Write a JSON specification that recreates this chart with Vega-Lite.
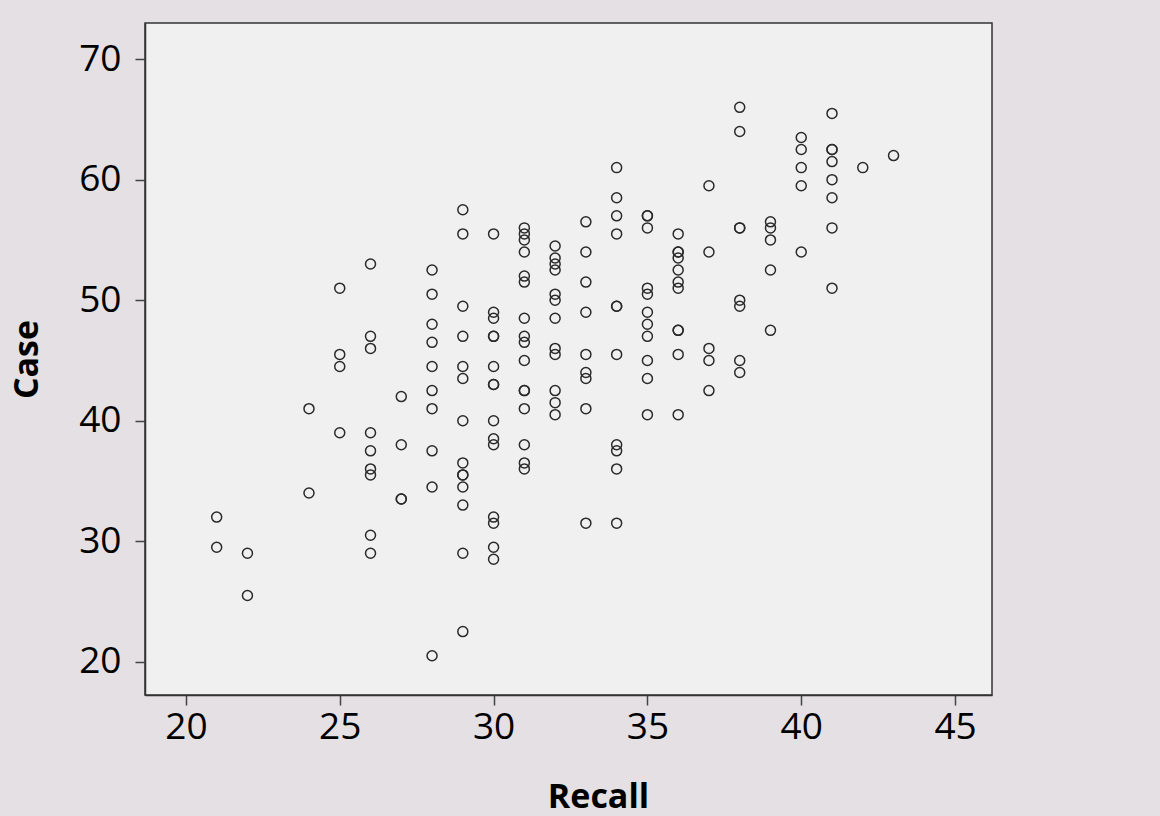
{
  "$schema": "https://vega.github.io/schema/vega-lite/v6.json",
  "width": 847,
  "height": 672,
  "autosize": "none",
  "padding": {"left": 145, "top": 23, "right": 168, "bottom": 121},
  "background": "#e4e0e3",
  "config": {
    "view": {"fill": "#f0f0f0", "stroke": "#333333", "strokeWidth": 1.5},
    "font": "Open Sans"
  },
  "data": {
    "values": [
      {"Recall": 21, "Case": 32}, {"Recall": 21, "Case": 29.5},
      {"Recall": 22, "Case": 29}, {"Recall": 22, "Case": 25.5},
      {"Recall": 24, "Case": 41}, {"Recall": 24, "Case": 34},
      {"Recall": 25, "Case": 51}, {"Recall": 25, "Case": 45.5}, {"Recall": 25, "Case": 44.5}, {"Recall": 25, "Case": 39},
      {"Recall": 26, "Case": 53}, {"Recall": 26, "Case": 47}, {"Recall": 26, "Case": 46}, {"Recall": 26, "Case": 39}, {"Recall": 26, "Case": 37.5}, {"Recall": 26, "Case": 36}, {"Recall": 26, "Case": 35.5}, {"Recall": 26, "Case": 30.5}, {"Recall": 26, "Case": 29},
      {"Recall": 27, "Case": 42}, {"Recall": 27, "Case": 38}, {"Recall": 27, "Case": 33.5}, {"Recall": 27, "Case": 33.5},
      {"Recall": 28, "Case": 52.5}, {"Recall": 28, "Case": 50.5}, {"Recall": 28, "Case": 48}, {"Recall": 28, "Case": 46.5}, {"Recall": 28, "Case": 44.5}, {"Recall": 28, "Case": 42.5}, {"Recall": 28, "Case": 41}, {"Recall": 28, "Case": 37.5}, {"Recall": 28, "Case": 34.5}, {"Recall": 28, "Case": 20.5},
      {"Recall": 29, "Case": 57.5}, {"Recall": 29, "Case": 55.5}, {"Recall": 29, "Case": 49.5}, {"Recall": 29, "Case": 47}, {"Recall": 29, "Case": 44.5}, {"Recall": 29, "Case": 43.5}, {"Recall": 29, "Case": 40}, {"Recall": 29, "Case": 36.5}, {"Recall": 29, "Case": 35.5}, {"Recall": 29, "Case": 35.5}, {"Recall": 29, "Case": 34.5}, {"Recall": 29, "Case": 33}, {"Recall": 29, "Case": 29}, {"Recall": 29, "Case": 22.5},
      {"Recall": 30, "Case": 55.5}, {"Recall": 30, "Case": 49}, {"Recall": 30, "Case": 48.5}, {"Recall": 30, "Case": 47}, {"Recall": 30, "Case": 47}, {"Recall": 30, "Case": 44.5}, {"Recall": 30, "Case": 43}, {"Recall": 30, "Case": 43}, {"Recall": 30, "Case": 40}, {"Recall": 30, "Case": 38.5}, {"Recall": 30, "Case": 38}, {"Recall": 30, "Case": 32}, {"Recall": 30, "Case": 31.5}, {"Recall": 30, "Case": 29.5}, {"Recall": 30, "Case": 28.5},
      {"Recall": 31, "Case": 56}, {"Recall": 31, "Case": 55.5}, {"Recall": 31, "Case": 55}, {"Recall": 31, "Case": 54}, {"Recall": 31, "Case": 52}, {"Recall": 31, "Case": 51.5}, {"Recall": 31, "Case": 48.5}, {"Recall": 31, "Case": 47}, {"Recall": 31, "Case": 46.5}, {"Recall": 31, "Case": 45}, {"Recall": 31, "Case": 42.5}, {"Recall": 31, "Case": 42.5}, {"Recall": 31, "Case": 41}, {"Recall": 31, "Case": 38}, {"Recall": 31, "Case": 36.5}, {"Recall": 31, "Case": 36},
      {"Recall": 32, "Case": 54.5}, {"Recall": 32, "Case": 53.5}, {"Recall": 32, "Case": 53}, {"Recall": 32, "Case": 52.5}, {"Recall": 32, "Case": 50.5}, {"Recall": 32, "Case": 50}, {"Recall": 32, "Case": 48.5}, {"Recall": 32, "Case": 46}, {"Recall": 32, "Case": 45.5}, {"Recall": 32, "Case": 42.5}, {"Recall": 32, "Case": 41.5}, {"Recall": 32, "Case": 40.5},
      {"Recall": 33, "Case": 56.5}, {"Recall": 33, "Case": 54}, {"Recall": 33, "Case": 51.5}, {"Recall": 33, "Case": 49}, {"Recall": 33, "Case": 45.5}, {"Recall": 33, "Case": 44}, {"Recall": 33, "Case": 43.5}, {"Recall": 33, "Case": 41}, {"Recall": 33, "Case": 31.5},
      {"Recall": 34, "Case": 61}, {"Recall": 34, "Case": 58.5}, {"Recall": 34, "Case": 57}, {"Recall": 34, "Case": 55.5}, {"Recall": 34, "Case": 49.5}, {"Recall": 34, "Case": 49.5}, {"Recall": 34, "Case": 45.5}, {"Recall": 34, "Case": 38}, {"Recall": 34, "Case": 37.5}, {"Recall": 34, "Case": 36}, {"Recall": 34, "Case": 31.5},
      {"Recall": 35, "Case": 57}, {"Recall": 35, "Case": 57}, {"Recall": 35, "Case": 56}, {"Recall": 35, "Case": 51}, {"Recall": 35, "Case": 50.5}, {"Recall": 35, "Case": 49}, {"Recall": 35, "Case": 48}, {"Recall": 35, "Case": 47}, {"Recall": 35, "Case": 45}, {"Recall": 35, "Case": 43.5}, {"Recall": 35, "Case": 40.5},
      {"Recall": 36, "Case": 55.5}, {"Recall": 36, "Case": 54}, {"Recall": 36, "Case": 54}, {"Recall": 36, "Case": 53.5}, {"Recall": 36, "Case": 52.5}, {"Recall": 36, "Case": 51.5}, {"Recall": 36, "Case": 51}, {"Recall": 36, "Case": 47.5}, {"Recall": 36, "Case": 47.5}, {"Recall": 36, "Case": 45.5}, {"Recall": 36, "Case": 40.5},
      {"Recall": 37, "Case": 59.5}, {"Recall": 37, "Case": 54}, {"Recall": 37, "Case": 46}, {"Recall": 37, "Case": 45}, {"Recall": 37, "Case": 42.5},
      {"Recall": 38, "Case": 66}, {"Recall": 38, "Case": 64}, {"Recall": 38, "Case": 56}, {"Recall": 38, "Case": 56}, {"Recall": 38, "Case": 50}, {"Recall": 38, "Case": 49.5}, {"Recall": 38, "Case": 45}, {"Recall": 38, "Case": 44},
      {"Recall": 39, "Case": 56.5}, {"Recall": 39, "Case": 56}, {"Recall": 39, "Case": 55}, {"Recall": 39, "Case": 52.5}, {"Recall": 39, "Case": 47.5},
      {"Recall": 40, "Case": 63.5}, {"Recall": 40, "Case": 62.5}, {"Recall": 40, "Case": 61}, {"Recall": 40, "Case": 59.5}, {"Recall": 40, "Case": 54},
      {"Recall": 41, "Case": 65.5}, {"Recall": 41, "Case": 62.5}, {"Recall": 41, "Case": 62.5}, {"Recall": 41, "Case": 61.5}, {"Recall": 41, "Case": 60}, {"Recall": 41, "Case": 58.5}, {"Recall": 41, "Case": 56}, {"Recall": 41, "Case": 51},
      {"Recall": 42, "Case": 61},
      {"Recall": 43, "Case": 62}
    ]
  },
  "mark": {"type": "point", "shape": "circle", "filled": false, "stroke": "#2a2a2a", "strokeWidth": 1.5, "size": 100, "opacity": 1},
  "encoding": {
    "x": {
      "field": "Recall", "type": "quantitative",
      "scale": {"domain": [18.67, 46.2], "nice": false, "zero": false},
      "axis": {
        "title": "Recall", "values": [20, 25, 30, 35, 40, 45], "grid": false,
        "domainColor": "#333333", "domainWidth": 1.5, "tickColor": "#444444", "tickWidth": 1.5, "tickSize": 10,
        "labelFont": "Open Sans", "labelFontSize": 37, "labelColor": "#000000", "labelPadding": 4,
        "titleFont": "Open Sans", "titleFontSize": 34, "titleFontWeight": "bold", "titleColor": "#000000",
        "titleX": 453, "titleY": 112, "titleBaseline": "alphabetic", "titleAlign": "center"
      }
    },
    "y": {
      "field": "Case", "type": "quantitative",
      "scale": {"domain": [17.24, 73], "nice": false, "zero": false},
      "axis": {
        "title": "Case", "values": [20, 30, 40, 50, 60, 70], "grid": false,
        "domainColor": "#333333", "domainWidth": 1.5, "tickColor": "#444444", "tickWidth": 1.5, "tickSize": 10,
        "labelFont": "Open Sans", "labelFontSize": 37, "labelColor": "#000000", "labelPadding": 14,
        "titleFont": "Open Sans", "titleFontSize": 34, "titleFontWeight": "bold", "titleColor": "#000000",
        "titleX": -108, "titleY": 336, "titleAngle": -90, "titleBaseline": "alphabetic", "titleAlign": "center"
      }
    }
  }
}
